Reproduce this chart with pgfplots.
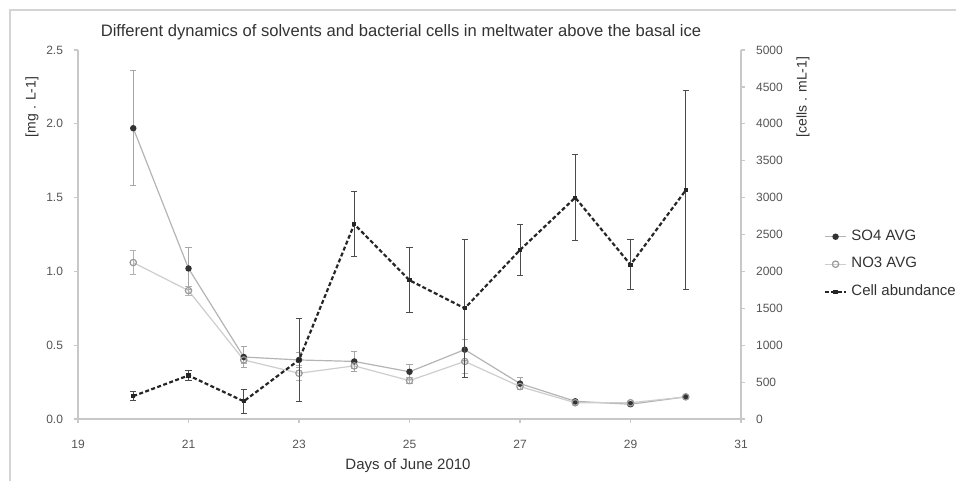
\documentclass[border=0pt]{standalone}
\usepackage{pgfplots}
\pgfplotsset{compat=1.18}
\usepackage{pgfplotstable}
\usepackage{fontspec}
\setmainfont{Liberation Sans}
\definecolor{axgray}{HTML}{C8C8C8}
\definecolor{labgray}{HTML}{555555}
\definecolor{soline}{HTML}{B4B4B4}
\definecolor{noline}{HTML}{CDCDCD}
\definecolor{frame}{HTML}{D4D4D4}

\pgfplotstableread{
x y e
20 1.97 0.39
21 1.02 0.14
22 0.42 0.07
23 0.40 0.05
24 0.39 0.07
25 0.32 0.05
26 0.47 0.07
27 0.24 0.04
28 0.12 0.01
29 0.10 0.01
30 0.15 0.01
}\soq

\pgfplotstableread{
x y e
20 1.06 0.08
21 0.87 0.03
22 0.40 0.02
23 0.31 0.05
24 0.36 0.02
25 0.26 0.02
26 0.39 0.08
27 0.22 0.02
28 0.11 0.01
29 0.11 0.01
30 0.15 0.01
}\noq

\pgfplotstableread{
x y e
20 310 60
21 590 70
22 240 160
23 800 560
24 2640 440
25 1880 440
26 1500 930
27 2290 350
28 3000 580
29 2090 340
30 3100 1350
}\cells

\pgfplotsset{
  common/.style={
    at={(39pt,31pt)}, anchor=south west,
    scale only axis, width=331.5pt, height=184.5pt,
    xmin=19, xmax=31, clip=false,
    tick align=outside, major tick length=2pt,
    axis line style={axgray, line width=0.6pt},
    tick style={axgray, line width=0.6pt},
    ticklabel style={font=\fontsize{6}{7}\selectfont, text=labgray},
    /pgf/number format/assume math mode=true,
    legend image code/.code={\draw[mark repeat=2,mark phase=2,#1] plot coordinates {(0cm,0cm) (0.19cm,0cm) (0.38cm,0cm)};},
  }
}

\begin{document}
\begin{tikzpicture}
\path[use as bounding box] (0,0) rectangle (478pt,240.5pt);
\draw[frame, line width=0.8pt] (5pt,0) -- (5pt,235.5pt) -- (478pt,235.5pt);

\begin{axis}[common,
  ymin=0, ymax=2.5,
  axis x line*=bottom, axis y line*=left,
  xtick={19,21,...,31},
  ytick={0,0.5,...,2.5},
  xticklabel style={yshift=-5pt},
  yticklabel style={xshift=-2pt},
  yticklabel style={/pgf/number format/.cd, fixed, fixed zerofill, precision=1},
]
\addplot[soline, line width=0.6pt, mark=*, mark size=1.3pt,
  mark options={fill=black!80, draw=black!80},
  error bars/.cd, y dir=both, y explicit,
  error bar style={black!35, line width=0.5pt},
  error mark options={black!35, mark size=1.6pt, rotate=90}]
  table[x=x, y=y, y error=e] {\soq};
\addplot[noline, line width=0.6pt, mark=o, mark size=1.6pt,
  mark options={draw=black!40, fill=white},
  error bars/.cd, y dir=both, y explicit,
  error bar style={black!30, line width=0.5pt},
  error mark options={black!30, mark size=1.6pt, rotate=90}]
  table[x=x, y=y, y error=e] {\noq};
\end{axis}

\begin{axis}[common,
  ymin=0, ymax=5000,
  axis x line=none, axis y line*=right,
  ytick={0,500,...,5000},
  yticklabel style={/tikz/xshift=2pt},
  yticklabel style={/pgf/number format/.cd, fixed, 1000 sep={}},
  legend style={draw=none, fill=none, at={(1.115,0.535)}, anchor=north west,
    font=\fontsize{7.5}{9}\selectfont, text=black!80, row sep=3pt},
  legend cell align=left,
]
\addlegendimage{soline, line width=0.6pt, mark=*, mark size=1.3pt, mark options={fill=black!80, draw=black!80}}
\addlegendentry{SO4 AVG}
\addlegendimage{noline, line width=0.6pt, mark=o, mark size=1.6pt, mark options={draw=black!40, fill=white}}
\addlegendentry{NO3 AVG}
\addplot[black!85, line width=1.1pt, dash pattern=on 2pt off 1.2pt,
  mark=square*, mark size=0.5pt, mark options={solid},
  error bars/.cd, y dir=both, y explicit,
  error bar style={black!70, line width=0.5pt, solid},
  error mark options={black!70, mark size=1.6pt, rotate=90, solid}]
  table[x=x, y=y, y error=e] {\cells};
\addlegendentry{Cell abundance}
\end{axis}

\node[font=\fontsize{8.3}{10}\selectfont, text=black!80] at (200.5pt,224.5pt)
  {Different dynamics of solvents and bacterial cells in meltwater above the basal ice};
\node[font=\fontsize{7}{8}\selectfont, text=black!80, rotate=90] at (16pt,187pt) {[mg . L-1]};
\node[font=\fontsize{7}{8}\selectfont, text=black!80, rotate=90] at (401.5pt,192pt) {[cells . mL-1]};
\node[font=\fontsize{7.5}{9}\selectfont, text=black!80] at (204pt,7.5pt) {Days of June 2010};
\end{tikzpicture}
\end{document}
